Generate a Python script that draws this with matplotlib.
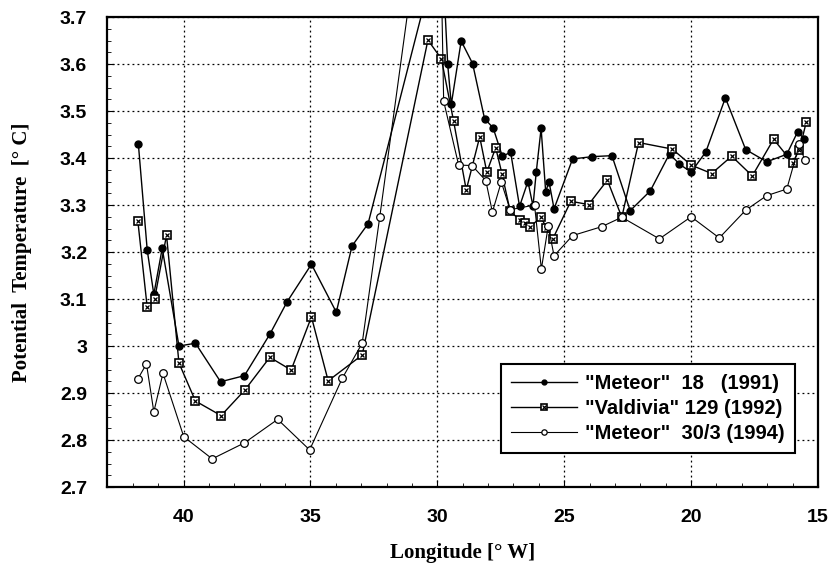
import matplotlib
matplotlib.use('Agg')
import matplotlib.pyplot as plt
from matplotlib.ticker import MultipleLocator, FuncFormatter

# Potential temperature along the section
m91_lon = [41.78, 41.43, 41.17, 40.84, 40.18, 39.53, 38.54, 37.60, 36.60, 35.92,
           34.96, 33.98, 33.36, 32.73, 29.84, 29.59, 29.45, 29.06, 28.61, 28.14,
           27.80, 27.44, 27.11, 26.76, 26.43, 26.23, 26.10, 25.91, 25.73, 25.60,
           25.40, 24.67, 23.89, 23.12, 22.40, 21.61, 20.85, 20.46, 20.00, 19.42,
           18.65, 17.85, 17.02, 16.23, 15.80, 15.54]
m91_temp = [3.430, 3.204, 3.110, 3.208, 3.000, 3.006, 2.924, 2.937, 3.025, 3.094,
            3.174, 3.072, 3.213, 3.260, 3.870, 3.599, 3.514, 3.649, 3.601, 3.484,
            3.464, 3.404, 3.412, 3.297, 3.350, 3.298, 3.371, 3.463, 3.328, 3.350,
            3.292, 3.398, 3.403, 3.405, 3.288, 3.330, 3.409, 3.387, 3.370, 3.413,
            3.528, 3.418, 3.392, 3.408, 3.456, 3.440]

v92_lon = [41.80, 41.43, 41.14, 40.67, 40.18, 39.53, 38.52, 37.59, 36.60, 35.76,
           34.96, 34.30, 32.96, 30.37, 29.84, 29.36, 28.86, 28.33, 28.05, 27.70,
           27.45, 27.13, 26.75, 26.55, 26.36, 25.92, 25.70, 25.45, 24.74, 24.04,
           23.30, 22.73, 22.07, 20.74, 20.00, 19.19, 18.40, 17.59, 16.75, 16.00,
           15.73, 15.46]
v92_temp = [3.266, 3.082, 3.100, 3.236, 2.964, 2.883, 2.852, 2.906, 2.976, 2.949,
            3.062, 2.926, 2.981, 3.651, 3.611, 3.479, 3.332, 3.445, 3.370, 3.422,
            3.366, 3.287, 3.268, 3.262, 3.253, 3.274, 3.252, 3.228, 3.308, 3.301,
            3.353, 3.274, 3.433, 3.419, 3.385, 3.367, 3.404, 3.362, 3.440, 3.390,
            3.418, 3.477]

m94_lon = [41.80, 41.46, 41.17, 40.81, 39.99, 38.87, 37.60, 36.29, 35.03, 33.75,
           32.96, 32.27, 29.98, 29.75, 29.16, 28.63, 28.09, 27.83, 27.48, 27.13,
           26.17, 25.90, 25.63, 25.40, 24.67, 23.52, 22.73, 21.25, 20.00, 18.89,
           17.85, 17.02, 16.23, 15.73, 15.53]
m94_temp = [2.930, 2.962, 2.860, 2.942, 2.807, 2.760, 2.794, 2.844, 2.779, 2.931,
            3.006, 3.274, 4.180, 3.521, 3.385, 3.384, 3.352, 3.285, 3.349, 3.290,
            3.300, 3.164, 3.255, 3.192, 3.235, 3.254, 3.274, 3.228, 3.275, 3.230,
            3.289, 3.320, 3.334, 3.430, 3.396]

labels = ['"Meteor"  18   (1991)', '"Valdivia" 129 (1992)', '"Meteor"  30/3 (1994)']

fig = plt.figure(figsize=(8.33, 5.67), dpi=100)
ax = fig.add_axes([0.128, 0.141, 0.854, 0.829])

l1, = ax.plot(m91_lon, m91_temp, color='black', lw=1, marker='o', ms=5,
              mfc='black', mec='black')
l2, = ax.plot(v92_lon, v92_temp, color='black', lw=1, marker='s', ms=6,
              mfc='white', mec='black', mew=1.2)
x2, = ax.plot(v92_lon, v92_temp, ls='none', marker='x', ms=3.5,
              mec='black', mew=0.9)
l3, = ax.plot(m94_lon, m94_temp, color='black', lw=0.8, marker='o', ms=5.5,
              mfc='white', mec='black', mew=0.9)

ax.set_xlim(43.03, 15)
ax.set_ylim(2.7, 3.7)
ax.xaxis.set_major_locator(MultipleLocator(5))
ax.xaxis.set_minor_locator(MultipleLocator(1))
ax.yaxis.set_major_locator(MultipleLocator(0.1))
ax.yaxis.set_minor_locator(MultipleLocator(0.025))
ax.yaxis.set_major_formatter(FuncFormatter(lambda v, p: '%g' % round(v, 2)))
ax.tick_params(which='both', direction='in', top=False, right=False)
ax.tick_params(which='major', length=5, labelsize=14)
ax.tick_params(axis='x', which='major', pad=16)
ax.tick_params(axis='y', which='major', pad=14)
ax.tick_params(which='minor', length=3)
for lab in ax.get_xticklabels() + ax.get_yticklabels():
    lab.set_fontweight('bold')
    lab.set_family('Liberation Sans')

ax.grid(True, which='major', color='black', ls=(0, (1.5, 2.5)), lw=0.9)
for sp in ax.spines.values():
    sp.set_linewidth(1.6)

ax.set_xlabel('Longitude [° W]', family='Liberation Serif', fontweight='bold',
              fontsize=15, labelpad=12)
ax.set_ylabel('Potential  Temperature  [° C]', family='Liberation Serif',
              fontweight='bold', fontsize=15, labelpad=20)

leg = ax.legend([l1, (l2, x2), l3], labels, loc='lower right',
                bbox_to_anchor=(0.982, 0.051), fancybox=False, framealpha=1,
                edgecolor='black', handlelength=3.3, handletextpad=0.4,
                markerscale=0.7, borderpad=0.5, labelspacing=0.3,
                prop={'family': 'Liberation Sans', 'weight': 'bold', 'size': 14.5})
leg.get_frame().set_linewidth(1.5)

fig.savefig('out.png', dpi=100)
